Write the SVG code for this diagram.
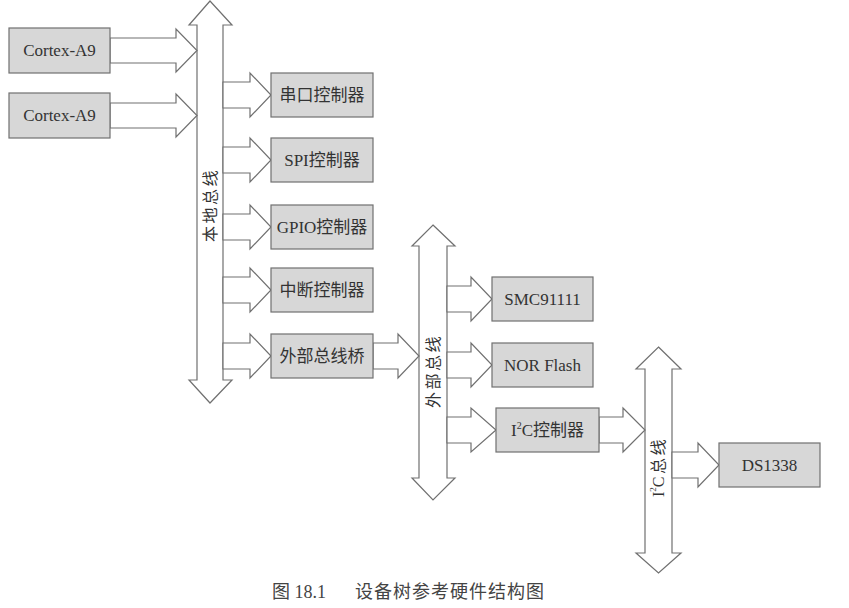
<svg xmlns="http://www.w3.org/2000/svg" width="849" height="608" viewBox="0 0 849 608">
<style>
.box{fill:#d7d7d7;stroke:#707070;stroke-width:1.2}
.arr{fill:#ffffff;stroke:#707070;stroke-width:1.2;stroke-linejoin:miter}
.t{font-family:"Liberation Serif","Noto Sans CJK SC",serif;font-size:17px;fill:#333;text-anchor:middle;dominant-baseline:central}
.bl{font-family:"Liberation Serif","Noto Sans CJK SC",serif;font-size:16px;fill:#333;text-anchor:middle;dominant-baseline:central;letter-spacing:2.5px}
.cap{font-family:"Liberation Serif","Noto Sans CJK SC",serif;font-size:18px;fill:#444}
</style>
<rect width="849" height="608" fill="#ffffff"/>
<g id="buses">
<g id="local-bus">
<polygon class="arr" points="210,1 232,25 223,25 223,380 232,380 210,403 189,380 197,380 197,25 189,25"/>
<text class="bl" transform="translate(210,205) rotate(-90)">本地总线</text>
</g>
<g id="external-bus">
<polygon class="arr" points="433,225 455,246 447,246 447,478 455,478 433,500 412,478 419,478 419,246 412,246"/>
<text class="bl" transform="translate(433,371) rotate(-90)">外部总线</text>
</g>
<g id="i2c-bus">
<polygon class="arr" points="658.5,347 681,369 672,369 672,553 681,553 658.5,573 636,553 645,553 645,369 636,369"/>
<text class="bl" transform="translate(658,467) rotate(-90)" style="letter-spacing:0">I<tspan font-size="9" dy="-5">2</tspan><tspan dy="5" style="letter-spacing:2.5px">C总线</tspan></text>
</g>
</g>
<g id="connectors">
<polygon class="arr" points="110,38 176,38 176,29 197,50.5 176,72 176,63 110,63"/>
<polygon class="arr" points="110,103 176,103 176,94 197,115.5 176,137 176,128 110,128"/>
<polygon class="arr" points="223,82 250,82 250,73 271,95 250,117 250,108 223,108"/>
<polygon class="arr" points="223,147 250,147 250,138 271,160 250,182 250,173 223,173"/>
<polygon class="arr" points="223,214 250,214 250,205 271,227 250,249 250,240 223,240"/>
<polygon class="arr" points="223,277 250,277 250,268 271,290 250,312 250,303 223,303"/>
<polygon class="arr" points="223,343 250,343 250,334 271,356 250,378 250,369 223,369"/>
<polygon class="arr" points="373,343 398,343 398,334 419,356 398,378 398,369 373,369"/>
<polygon class="arr" points="447,286 471,286 471,277 492,299 471,321 471,312 447,312"/>
<polygon class="arr" points="447,352 471,352 471,343 492,365 471,387 471,378 447,378"/>
<polygon class="arr" points="447,417 471,417 471,408 496,430 471,452 471,443 447,443"/>
<polygon class="arr" points="599,417 623,417 623,408 645,430 623,452 623,443 599,443"/>
<polygon class="arr" points="672,452 698,452 698,443 719,465 698,487 698,478 672,478"/>
</g>
<g id="cpu0"><rect class="box" x="9" y="28" width="101" height="45"/><text class="t" x="59.5" y="50.5">Cortex-A9</text></g>
<g id="cpu1"><rect class="box" x="9" y="93" width="101" height="45"/><text class="t" x="59.5" y="115.5">Cortex-A9</text></g>
<g id="uart"><rect class="box" x="271" y="73" width="102" height="44"/><text class="t" x="322" y="95">串口控制器</text></g>
<g id="spi"><rect class="box" x="271" y="138" width="102" height="44"/><text class="t" x="322" y="160">SPI控制器</text></g>
<g id="gpio"><rect class="box" x="271" y="205" width="102" height="44"/><text class="t" x="322" y="227">GPIO控制器</text></g>
<g id="intc"><rect class="box" x="271" y="268" width="102" height="44"/><text class="t" x="322" y="290">中断控制器</text></g>
<g id="bridge"><rect class="box" x="271" y="334" width="102" height="44"/><text class="t" x="322" y="356">外部总线桥</text></g>
<g id="smc"><rect class="box" x="492" y="277" width="101" height="44"/><text class="t" x="542.5" y="299">SMC91111</text></g>
<g id="nor"><rect class="box" x="492" y="343" width="101" height="44"/><text class="t" x="542.5" y="365">NOR Flash</text></g>
<g id="i2c"><rect class="box" x="496" y="408" width="103" height="44"/><text class="t" x="547.5" y="430">I<tspan font-size="10" dy="-5">2</tspan><tspan dy="5">C控制器</tspan></text></g>
<g id="rtc"><rect class="box" x="719" y="443" width="101" height="44"/><text class="t" x="769.5" y="465">DS1338</text></g>
<text class="cap" y="598"><tspan x="272">图 18.1</tspan><tspan x="355" letter-spacing="1">设备树参考硬件结构图</tspan></text>
</svg>
